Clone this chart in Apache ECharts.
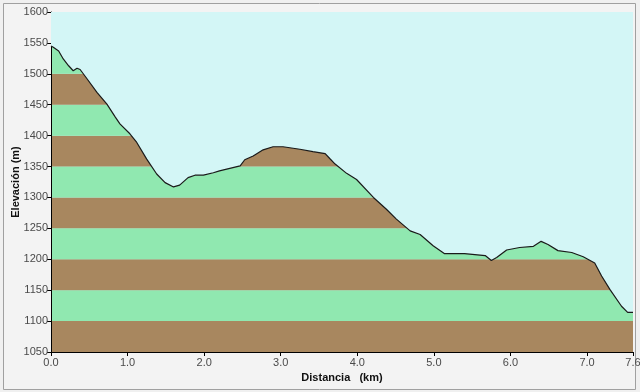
<!DOCTYPE html>
<html>
<head>
<meta charset="utf-8">
<script src="https://cdn.jsdelivr.net/npm/echarts@6/dist/echarts.min.js"></script>
<style>
html,body{margin:0;padding:0;background:#f0f0f0;}
#c{width:640px;height:392px;}
</style>
</head>
<body>
<div id="c"></div>
<script>
var distKm = [0.00,0.03,0.10,0.16,0.23,0.29,0.34,0.38,0.47,0.60,0.73,0.84,0.90,1.03,1.12,1.25,1.38,1.49,1.60,1.68,1.79,1.88,1.99,2.12,2.20,2.47,2.53,2.64,2.77,2.90,3.03,3.25,3.42,3.58,3.64,3.71,3.86,3.99,4.21,4.38,4.51,4.69,4.82,4.99,5.14,5.40,5.67,5.75,5.82,5.95,6.12,6.30,6.40,6.49,6.62,6.80,6.95,7.10,7.19,7.30,7.45,7.53,7.60];
var elevM = [1545,1543,1537,1524,1513,1505,1509,1507,1492,1470,1451,1430,1419,1403,1389,1362,1338,1324,1317,1320,1332,1336,1336,1340,1343,1351,1361,1367,1377,1382,1382,1378,1374,1371,1363,1354,1339,1329,1300,1281,1265,1246,1240,1222,1209,1209,1206,1198,1203,1215,1219,1221,1229,1224,1214,1211,1204,1194,1173,1151,1124,1114,1114];
var yTicks = [1050,1100,1150,1200,1250,1300,1350,1400,1450,1500,1550,1600];
var xTickLabels = ['0.0','1.0','2.0','3.0','4.0','5.0','6.0','7.0','7.6'];

var points = distKm.map(function(d,i){return [d, elevM[i]];});
var chart = echarts.init(document.getElementById('c'), null, {renderer:'canvas'});
var labelFont = {color:'#4a4a4a', fontSize:11, fontFamily:'Liberation Sans, Arial, sans-serif'};
chart.setOption({
  backgroundColor:'#f0f0f0',
  animation:false,
  graphic:[{
    type:'rect', left:3, top:3, shape:{width:632, height:386},
    style:{fill:'#f3f3f3', stroke:'#a0a0a0', lineWidth:1}, z:-10, silent:true
  }],
  grid:{left:51, top:12, right:7, bottom:40, containLabel:false, outerBoundsMode:'none',
        show:true, backgroundColor:'#d3f6f6', borderWidth:0},
  xAxis:{
    type:'value', min:0, max:7.6, interval:1,
    name:'Distancia   (km)', nameLocation:'middle', nameGap:20, nameMoveOverlap:false,
    nameTextStyle:{color:'#111', fontSize:11, fontWeight:'bold', fontFamily:'Liberation Sans, Arial, sans-serif'},
    axisLine:{show:true, onZero:false, lineStyle:{color:'#000', width:1}},
    axisTick:{show:true, length:4, lineStyle:{color:'#000'}},
    axisLabel:Object.assign({margin:5, showMaxLabel:true, showMinLabel:true, formatter:function(v){
      var s=v.toFixed(1); return xTickLabels.indexOf(s)>=0 ? s : '';
    }}, labelFont),
    splitLine:{show:false}
  },
  yAxis:{
    type:'value', min:yTicks[0], max:yTicks[yTicks.length-1], interval:50,
    name:'Elevación (m)', nameLocation:'middle', nameGap:30, nameMoveOverlap:false,
    nameTextStyle:{color:'#111', fontSize:11, fontWeight:'bold', fontFamily:'Liberation Sans, Arial, sans-serif'},
    axisLine:{show:true, lineStyle:{color:'#000', width:1}},
    axisTick:{show:true, length:4, lineStyle:{color:'#000'}},
    axisLabel:Object.assign({margin:3, formatter:function(v){return String(v);}}, labelFont),
    splitLine:{show:false},
    splitArea:{show:true, areaStyle:{color:['#a8875f','#90e8b0'], opacity:1}}
  },
  series:[{
    type:'line',
    data:points,
    showSymbol:false,
    smooth:false,
    lineStyle:{color:'#1a1a1a', width:1.2},
    areaStyle:{origin:'end', color:'#d3f6f6', opacity:1},
    z:3
  }]
});
</script>
</body>
</html>
